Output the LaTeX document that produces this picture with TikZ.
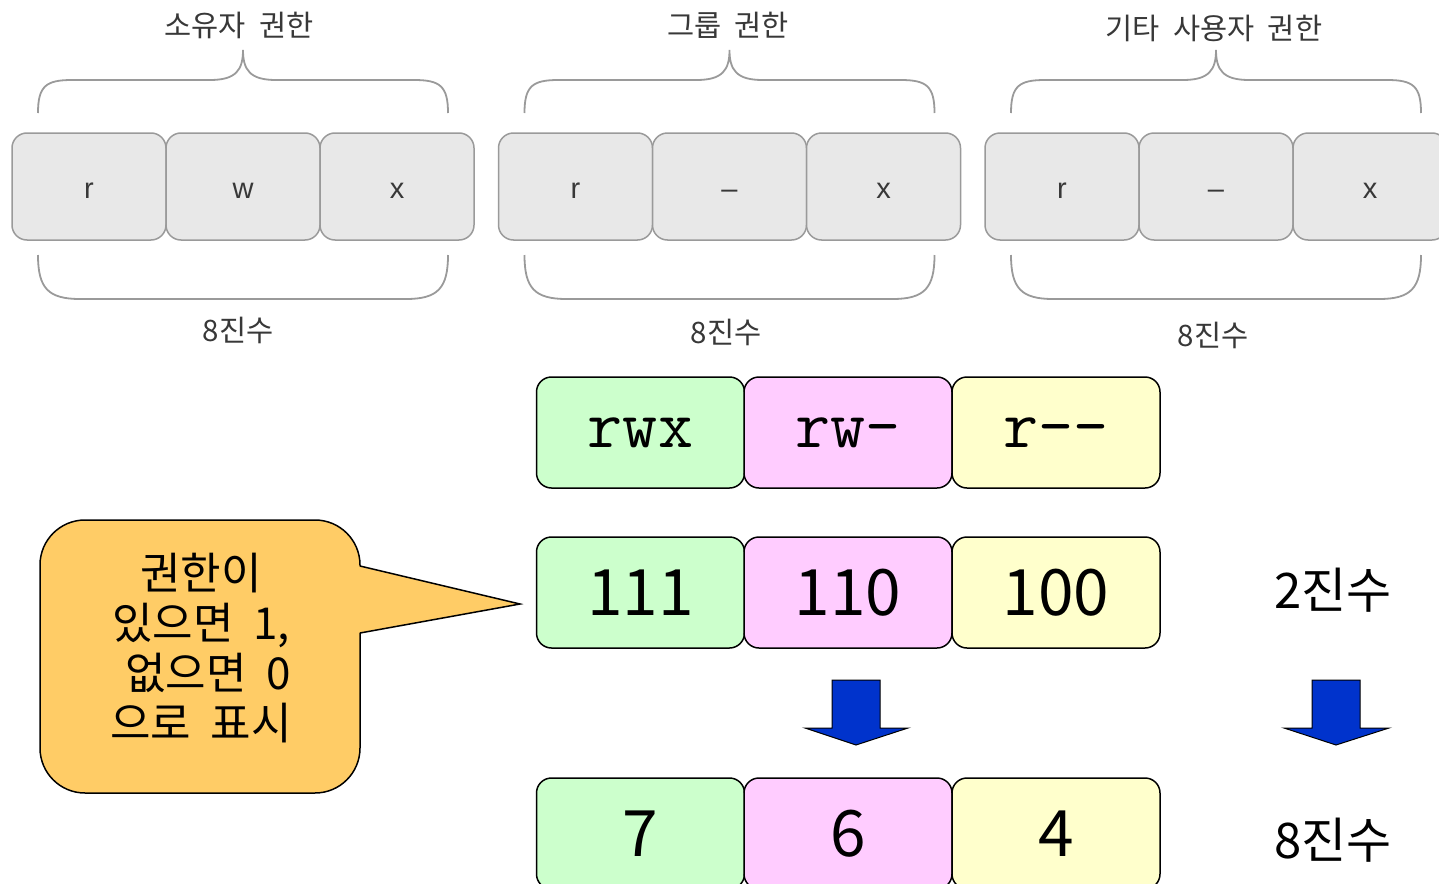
\documentclass[tikz,border=0pt]{standalone}
\usepackage{fontspec}
\setmainfont{Noto Sans CJK KR}
\newfontfamily\lsans{Liberation Sans}
\definecolor{gfill}{HTML}{E8E8E8}
\definecolor{gline}{HTML}{9A9A9A}
\definecolor{gtext}{HTML}{383838}
\definecolor{cgreen}{HTML}{CCFFCC}
\definecolor{cpink}{HTML}{FFCCFF}
\definecolor{cyellow}{HTML}{FFFFCC}
\definecolor{cblue}{HTML}{0033CC}
\definecolor{corange}{HTML}{FFCC66}
\newcommand{\wsp}{\hspace{0.45em}}
\newcommand{\glab}[1]{\raisebox{-12pt}[0pt][0pt]{#1}}
\tikzset{
  gbox/.style={draw=gline, fill=gfill, line width=1.5pt, rounded corners=15pt,
    minimum width=154pt, minimum height=107pt, inner sep=0pt, text=gtext,
    font=\lsans\fontsize{29}{32}\selectfont},
  cbox/.style={draw=black, line width=1.5pt, rounded corners=15pt,
    minimum width=208pt, minimum height=111pt, inner sep=0pt},
  mono/.style={font=\ttfamily\fontsize{68}{72}\selectfont},
  bignum/.style={font=\fontsize{64}{70}\selectfont},
  title/.style={text=gtext, font=\fontsize{29.5}{34}\selectfont, inner sep=0pt},
  side/.style={font=\fontsize{49}{54}\selectfont, inner sep=0pt},
  brace/.style={draw=gline, line width=1.8pt},
  bluearrow/.style={fill=cblue, draw=black, line width=1pt, line join=miter},
}
\begin{document}
\begin{tikzpicture}[x=1pt,y=-1pt]
\useasboundingbox (0,0) rectangle (1439,883);
\clip (0,0) rectangle (1439,883);

% --- top gray groups ---
\node[gbox] (g1a) at (89,186.5) {\glab{r}};
\node[gbox] (g1b) at (243,186.5) {\glab{w}};
\node[gbox] (g1c) at (397,186.5) {\glab{x}};
\node[gbox] (g2a) at (575.5,186.5) {\glab{r}};
\node[gbox] (g2b) at (729.5,186.5) {\glab{–}};
\node[gbox] (g2c) at (883.5,186.5) {\glab{x}};
\node[gbox] (g3a) at (1062,186.5) {\glab{r}};
\node[gbox] (g3b) at (1216,186.5) {\glab{–}};
\node[gbox] (g3c) at (1370,186.5) {\glab{x}};

\foreach \dx in {0,486.5,973}{
  \begin{scope}[xshift=\dx pt]
    \draw[brace] (38,113) .. controls (38,86) and (46,80) .. (72,80) -- (210,80)
      .. controls (236,80) and (243,70) .. (243,50)
      .. controls (243,70) and (250,80) .. (276,80) -- (414,80)
      .. controls (440,80) and (448,86) .. (448,113);
    \draw[brace] (38,255) .. controls (38,288) and (48,299) .. (80,299) -- (406,299)
      .. controls (438,299) and (448,288) .. (448,255);
  \end{scope}
}

\node[title] (t1) at (239,25) {소유자\wsp 권한};
\node[title] (t2) at (728,25) {그룹\wsp 권한};
\node[title] (t3) at (1214,28) {기타\wsp 사용자\wsp 권한};
\node[title] (o1) at (238,330) {8진수};
\node[title] (o2) at (726,332) {8진수};
\node[title] (o3) at (1213,335) {8진수};

% --- colored rows ---
\node[cbox, fill=cgreen,  mono] (p1) at (640.5,432.5) {rwx};
\node[cbox, fill=cpink,   mono] (p2) at (848,432.5) {rw-};
\node[cbox, fill=cyellow, mono] (p3) at (1056,432.5) {r--};

\node[cbox, fill=cgreen,  bignum] (b1) at (640.5,592.5) {111};
\node[cbox, fill=cpink,   bignum] (b2) at (848,592.5) {110};
\node[cbox, fill=cyellow, bignum] (b3) at (1056,592.5) {100};

\node[cbox, fill=cgreen,  bignum] (d1) at (640.5,833.5) {7};
\node[cbox, fill=cpink,   bignum] (d2) at (848,833.5) {6};
\node[cbox, fill=cyellow, bignum] (d3) at (1056,833.5) {4};

\node[side] (l2) at (1333,590) {2진수};
\node[side] (l8) at (1333,840) {8진수};

% --- blue arrows ---
\draw[bluearrow] (832,680) -- (880,680) -- (880,728) -- (908,728) -- (856,745)
  -- (805,728) -- (832,728) -- cycle;
\draw[bluearrow] (1312,680) -- (1360,680) -- (1360,728) -- (1389,728) -- (1336,745)
  -- (1284,728) -- (1312,728) -- cycle;

% --- callout ---
\draw[fill=corange, line width=1.5pt, rounded corners=45pt] (40,520) rectangle (360,793);
\fill[corange] (358,566) -- (520,604) -- (358,633) -- cycle;
\draw[line width=1.5pt, line join=miter] (360,566) -- (520,604) -- (360,633);
\node[align=center, font=\fontsize{44}{50}\selectfont, inner sep=0pt] (call) at (201,648)
  {권한이\\있으면\wsp 1,\\\hspace*{0.33em}없으면\wsp 0\\으로\wsp 표시};
\end{tikzpicture}
\end{document}
